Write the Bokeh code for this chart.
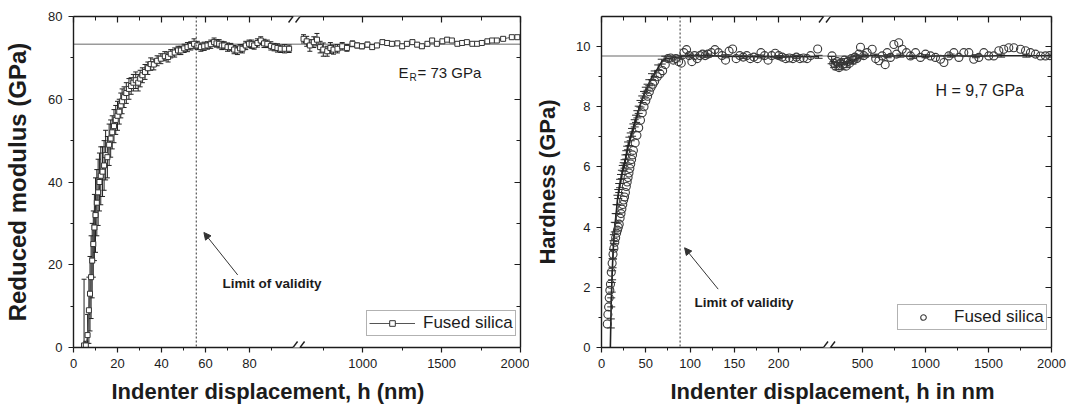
import numpy as np
from bokeh.plotting import figure
from bokeh.models import (Range1d, LinearAxis, FixedTicker, CustomJSTickFormatter, Span,
                          Label, Arrow, NormalHead, Whisker, TeeHead, ColumnDataSource,
                          Legend, LegendItem, Title)
from bokeh.layouts import row
from bokeh.embed import file_html
from bokeh.resources import INLINE

FONT = "Liberation Sans"
INK = "#1c1c1c"

# ---------------- data: left panel (reduced modulus) ----------------
h_mod_a = [4.8, 5.6, 6.4, 7.0, 7.5, 8.0, 8.5, 9.0, 9.5, 10.0, 10.6, 11.2, 11.8, 12.4, 13.2, 13.9,
           14.6, 15.4, 16.2, 16.9, 17.6, 18.4, 19.2, 20.0, 20.8, 21.5, 22.1, 23.0, 24.0, 25.2, 26.2,
           27.2, 28.3, 29.4, 30.3, 31.3, 32.5, 33.8, 35.1, 36.5, 38.0, 39.7, 41.5, 43.0, 44.2, 46.0,
           47.5, 48.8, 50.3, 51.8, 53.3, 54.8, 56.3, 57.9, 59.4, 60.9, 62.4, 63.9, 65.0, 66.2, 67.4,
           68.5, 70.0, 71.5, 73.0, 74.5, 75.7, 76.8, 78.3, 79.8, 81.0, 82.1, 83.6, 85.1, 86.6, 88.1,
           89.7, 91.2, 92.7, 94.2, 96.0, 98.0]
E_mod_a = [0.5, 0.5, 3.0, 9.0, 13.0, 17.0, 21.0, 25.0, 29.0, 32.0, 35.0, 37.5, 40.0, 41.5, 42.5, 44.0,
           46.5, 46.0, 49.0, 50.5, 52.0, 53.5, 55.0, 56.0, 57.0, 58.5, 59.5, 60.5, 61.5, 62.5, 63.2,
           64.0, 64.6, 64.0, 65.0, 65.8, 66.6, 67.5, 68.5, 68.4, 69.3, 69.8, 70.4, 70.2, 71.0, 71.3,
           71.8, 71.8, 72.3, 72.6, 72.9, 73.4, 73.0, 72.6, 72.8, 73.0, 73.3, 73.8, 73.5, 73.4, 73.0,
           73.0, 72.6, 72.6, 72.0, 71.8, 72.3, 72.2, 73.0, 73.4, 73.3, 73.0, 73.6, 74.2, 73.5, 73.4,
           72.9, 72.6, 72.4, 72.2, 72.2, 72.2]
err_mod_a = [16.0, 1.0, 5.0, 8.0, 9.0, 10.0, 9.0, 8.0, 8.0, 9.0, 8.0, 8.0, 7.0, 7.0, 6.0, 6.0,
             6.0, 5.0, 5.0, 4.5, 4.0, 4.0, 3.5, 3.5, 3.0, 3.0, 3.0, 2.5, 2.5, 2.5, 2.0,
             2.0, 2.0, 2.0, 2.0, 1.8, 1.8, 1.5, 1.5, 1.3, 1.2, 1.2, 1.1, 1.2, 1.0, 1.1,
             1.0, 1.0, 1.0, 1.1, 1.0, 1.2, 1.0, 1.0, 1.0, 0.9, 1.0, 1.0, 0.9, 1.0, 1.0,
             0.9, 1.0, 0.9, 1.0, 1.0, 0.9, 1.0, 1.0, 0.9, 1.0, 0.9, 1.0, 0.9, 1.0, 0.9,
             1.0, 0.9, 1.0, 0.9, 1.0, 0.9]

h_mod_b = [625, 645, 665, 690, 710, 730, 750, 775, 795, 815, 840, 870, 900, 935, 965, 995, 1030,
           1060, 1090, 1125, 1155, 1185, 1220, 1250, 1280, 1315, 1345, 1375, 1410, 1440, 1470, 1505,
           1535, 1565, 1600, 1630, 1660, 1695, 1725, 1755, 1790, 1820, 1850, 1890, 1945, 1980]
E_mod_b = [74.6, 74.0, 73.0, 73.8, 74.4, 72.6, 72.0, 71.6, 72.4, 72.0, 72.2, 72.8, 72.4, 73.4, 73.0,
           72.8, 73.2, 72.6, 73.0, 73.8, 73.6, 73.4, 73.5, 72.8, 73.4, 73.8, 73.2, 72.8, 73.4, 74.2,
           73.4, 74.0, 74.4, 74.2, 73.4, 73.6, 73.8, 73.4, 73.4, 73.6, 74.0, 74.2, 74.2, 74.6, 75.0,
           75.0]
err_mod_b = [1.0, 1.2, 1.4, 1.3, 1.5, 1.4, 1.6, 1.2, 1.3, 1.1, 1.0, 0.9, 0.8, 0.7, 0.6, 0.6, 0.6,
             0.5, 0.5, 0.5, 0.5, 0.5, 0.5, 0.5, 0.5, 0.5, 0.5, 0.5, 0.5, 0.5, 0.4, 0.4, 0.4, 0.4,
             0.4, 0.4, 0.4, 0.4, 0.4, 0.4, 0.4, 0.4, 0.4, 0.4, 0.3, 0.3]

ER_value = 73.3
limit_left = 55.8

# ---------------- data: right panel (hardness) ----------------
h_hard_a = [6.5, 7.2, 8.0, 8.7, 9.4, 10.1, 11, 12, 13, 14, 15, 16, 17, 18, 19, 20, 21, 22, 23, 24,
            25, 26, 27, 28, 29, 30, 31, 32, 33, 34, 35, 36, 38, 40, 42, 44, 46, 48, 50, 52, 54, 56,
            58, 60, 63, 66, 69, 72, 75, 78, 81, 84, 87, 90, 93, 96, 99, 102, 105, 108, 111, 114,
            117, 120, 124, 128, 132, 136, 140, 144, 148, 152, 156, 160, 164, 168, 172, 176, 180,
            184, 188, 192, 196, 200, 204, 208, 212, 216, 220, 224, 228, 232, 236, 244]
H_hard_a = [0.78, 1.1, 1.35, 1.65, 1.9, 2.1, 2.5, 2.8, 3.1, 3.3, 3.5, 3.65, 3.8, 3.9, 4.0, 4.1, 4.3,
            4.45, 4.6, 4.75, 4.9, 5.0, 5.15, 5.35, 5.5, 5.65, 5.8, 5.95, 6.1, 6.25, 6.4, 6.55, 6.8,
            7.05, 7.3, 7.55, 7.8, 8.0, 8.2, 8.35, 8.5, 8.65, 8.75, 8.85, 9.0, 9.1, 9.2, 9.4, 9.6,
            9.62, 9.55, 9.6, 9.5, 9.45, 9.8, 9.9, 9.7, 9.5, 9.7, 9.6, 9.7, 9.75, 9.7, 9.75, 9.8,
            9.9, 9.8, 9.7, 9.55, 9.85, 9.92, 9.6, 9.7, 9.65, 9.7, 9.6, 9.65, 9.6, 9.8, 9.7, 9.55,
            9.7, 9.78, 9.7, 9.65, 9.6, 9.62, 9.6, 9.65, 9.6, 9.62, 9.6, 9.7, 9.92]
h_hard_b = [258, 272, 286, 300, 314, 328, 342, 356, 370, 384, 398, 412, 426, 440, 455, 471, 484, 510,
            537, 577, 605, 630, 656, 680, 696, 722, 749, 770, 788, 815, 849, 881, 921, 960, 1000,
            1040, 1079, 1119, 1146, 1185, 1225, 1265, 1304, 1344, 1383, 1423, 1463, 1502, 1542,
            1582, 1621, 1661, 1701, 1754, 1794, 1833, 1873, 1913, 1952, 1985]
H_hard_b = [9.69, 9.45, 9.35, 9.5, 9.3, 9.45, 9.4, 9.55, 9.35, 9.5, 9.45, 9.6, 9.55, 9.65, 9.6, 9.75,
            9.98, 9.7, 9.8, 9.91, 9.6, 9.53, 9.69, 9.4, 9.8, 9.64, 10.07, 9.75, 10.13, 9.91, 9.8,
            9.69, 9.8, 9.64, 9.75, 9.69, 9.64, 9.58, 9.47, 9.69, 9.8, 9.64, 9.8, 9.8, 9.58, 9.64,
            9.8, 9.69, 9.69, 9.86, 9.91, 9.96, 9.96, 9.91, 9.86, 9.8, 9.75, 9.69, 9.69, 9.7]
# darker error-bar curve of the hardness measurement
h_dark_a = [10, 10.5, 11, 11.5, 12, 12.5, 13, 13.5, 14, 15, 16, 17, 18, 19, 20, 21, 22, 23, 24, 25,
            26, 27, 28, 29, 30, 31.5, 33, 34.5, 36, 37.5, 39, 40.5, 42, 44, 46, 48, 50, 52, 54, 57,
            60, 64, 68, 72, 80, 90, 100, 120, 140, 160, 180, 200, 220, 245]
H_dark_a = [0.0, 0.8, 1.5, 2.0, 2.4, 2.8, 3.1, 3.4, 3.6, 4.0, 4.3, 4.6, 4.9, 5.1, 5.3, 5.45, 5.6,
            5.75, 5.9, 6.0, 6.1, 6.25, 6.4, 6.55, 6.7, 6.85, 7.0, 7.15, 7.3, 7.45, 7.6, 7.75, 7.9,
            8.1, 8.25, 8.4, 8.55, 8.65, 8.8, 9.0, 9.1, 9.3, 9.5, 9.6, 9.62, 9.66, 9.7, 9.7, 9.68,
            9.66, 9.67, 9.65, 9.66, 9.66]
err_dark_a = [0.0, 0.15, 0.15, 0.16, 0.15, 0.15, 0.16, 0.15, 0.15, 0.16, 0.15, 0.15, 0.16, 0.15,
              0.15, 0.14, 0.15, 0.14, 0.15, 0.14, 0.14, 0.15, 0.14, 0.14, 0.13, 0.14, 0.13, 0.13,
              0.13, 0.12, 0.12, 0.12, 0.12, 0.11, 0.11, 0.11, 0.1, 0.1, 0.1, 0.1, 0.09, 0.09, 0.08,
              0.08, 0.06, 0.05, 0.05, 0.05, 0.05, 0.05, 0.05, 0.05, 0.05, 0.05]
h_dark_b = [255, 275, 295, 315, 335, 355, 375, 395, 420, 450, 480, 520, 600, 700, 800, 900, 1000,
            1200, 1400, 1600, 1800, 2000]
H_dark_b = [9.55, 9.4, 9.35, 9.45, 9.35, 9.5, 9.4, 9.55, 9.5, 9.6, 9.65, 9.7, 9.7, 9.68, 9.7, 9.66,
            9.68, 9.7, 9.68, 9.7, 9.7, 9.7]
err_dark_b = [0.12, 0.1, 0.12, 0.1, 0.12, 0.1, 0.1, 0.1, 0.08, 0.08, 0.06, 0.05, 0.05, 0.05, 0.05,
              0.05, 0.05, 0.05, 0.05, 0.05, 0.05, 0.05]

H_value = 9.69
limit_right = 88.7

FIG_H = 412
PAGE_TOP = 0  # the page template draws the layout at the very top-left corner


def style_axis(ax, t_in, t_out, m_in, m_out, labels):
    ax.axis_line_color = INK
    ax.axis_line_width = 1.4
    ax.major_tick_line_color = INK
    ax.minor_tick_line_color = INK
    ax.major_tick_line_width = 1.2
    ax.minor_tick_line_width = 1.0
    ax.major_tick_in = t_in
    ax.major_tick_out = t_out
    ax.minor_tick_in = m_in
    ax.minor_tick_out = m_out
    if labels:
        ax.major_label_text_font = FONT
        ax.major_label_text_font_size = "13px"
        ax.major_label_text_color = INK
    else:
        ax.major_label_text_color = None
        ax.major_label_text_font_size = "1px"
        ax.major_label_standoff = 0


def build(width, x0_page, mb_left, mb_right, mb_top, mb_bottom, seg1, seg2, f1, f2, yr,
          xmaj1, xmin1, xmaj2, xmin2, ymaj, ymin, ylabel, ylabel_size, ylabel_standoff,
          xlabel, xlabel_left_page, tick_standoff, xlabel_standoff):
    fw = width - mb_left - mb_right
    fh = FIG_H - mb_top - mb_bottom
    fl = x0_page + mb_left
    ft = PAGE_TOP + mb_top
    R = seg1[1] / f1
    s = (seg2[0] - seg2[1] * f2) / (1 - f2)
    p = figure(width=width, height=FIG_H, output_backend="svg", toolbar_location=None,
               x_range=Range1d(0, R), y_range=Range1d(yr[0], yr[1]),
               min_border_left=mb_left, min_border_right=mb_right,
               min_border_top=mb_top, min_border_bottom=mb_bottom)
    p.extra_x_ranges = {"seg2": Range1d(s, seg2[1])}
    p.outline_line_color = None
    p.grid.visible = False
    p.background_fill_color = "white"
    p.border_fill_color = "white"

    def to_main(v):
        return (v - s) / (seg2[1] - s) * R

    major = [float(v) for v in xmaj1] + [to_main(v) for v in xmaj2]
    minor = [float(v) for v in xmin1] + [to_main(v) for v in xmin2]
    labs = [str(v) for v in xmaj1] + [str(v) for v in xmaj2]
    fmt = CustomJSTickFormatter(args=dict(pos=major, labs=labs), code="""
        for (let i = 0; i < pos.length; i++) {
            if (Math.abs(pos[i] - tick) < 1e-6) { return labs[i]; }
        }
        return '';
    """)
    xb = p.xaxis[0]
    xb.ticker = FixedTicker(ticks=major, minor_ticks=minor)
    xb.formatter = fmt
    style_axis(xb, 0, 5, 0, 3, True)
    xb.major_label_standoff = tick_standoff

    xt = LinearAxis(ticker=FixedTicker(ticks=major, minor_ticks=minor))
    style_axis(xt, 6, 0, 4, 0, False)
    p.add_layout(xt, "above")

    yl = p.yaxis[0]
    yl.ticker = FixedTicker(ticks=ymaj, minor_ticks=ymin)
    style_axis(yl, 0, 5, 0, 3, True)
    yl.major_label_standoff = 6
    yl.axis_label = ylabel
    yl.axis_label_text_font = FONT
    yl.axis_label_text_font_style = "bold"
    yl.axis_label_text_font_size = ylabel_size
    yl.axis_label_text_color = INK
    yl.axis_label_standoff = ylabel_standoff

    yrx = LinearAxis(ticker=FixedTicker(ticks=ymaj, minor_ticks=ymin))
    style_axis(yrx, 6, 0, 4, 0, False)
    p.add_layout(yrx, "right")

    p.add_layout(Title(text=xlabel, align="left", offset=xlabel_left_page - fl,
                       standoff=xlabel_standoff, text_font=FONT, text_font_size="22px",
                       text_font_style="bold", text_color=INK), "below")

    def P(xp, yp):
        return (xp - fl) / fw * R, yr[1] - (yp - ft) / fh * (yr[1] - yr[0])

    dx = R / fw
    dy = (yr[1] - yr[0]) / fh
    xbk = R * (f1 + f2) / 2
    for yv, sgn in ((yr[0], 1), (yr[1], -1)):
        p.add_layout(Arrow(end=None, x_start=xbk - 3.5 * dx, x_end=xbk + 3.5 * dx,
                           y_start=yv + sgn * 0.5 * dy, y_end=yv + sgn * 0.5 * dy,
                           line_color="white", line_width=3))
        for c in (-3.5, 3.5):
            p.add_layout(Arrow(end=None, x_start=xbk + (c - 4.5) * dx, y_start=yv - 6 * dy,
                               x_end=xbk + (c + 4.5) * dx, y_end=yv + 6 * dy,
                               line_color=INK, line_width=1.4))
    return p, P


def add_text(p, xy, text, size, bold=False, baseline="alphabetic", align="left"):
    p.add_layout(Label(x=xy[0], y=xy[1], text=text, text_font=FONT, text_font_size=size,
                       text_font_style="bold" if bold else "normal", text_color=INK,
                       text_baseline=baseline, text_align=align))


# ================= left panel =================
pL, PL = build(529, 0, 73, 9, 16, 63, (0, 100), (600, 2000), 220.0 / 447, 226.1 / 447, (0, 80),
               [0, 20, 40, 60, 80], [10, 30, 50, 70, 90], [1000, 1500, 2000], [750, 1250, 1750],
               [0, 20, 40, 60, 80], [10, 30, 50, 70], "Reduced modulus (GPa)", "24px", 14,
               "Indenter displacement, h (nm)", 111, 6, 12)

pL.add_layout(Span(location=ER_value, dimension="width", line_color="#9a9a9a", line_width=1.5,
                   level="underlay"))
pL.add_layout(Span(location=limit_left, dimension="height", line_color="#333333", line_width=1,
                   line_dash="2 2"))

Ea = np.array(E_mod_a)
ea = np.array(err_mod_a)
srcA = ColumnDataSource(dict(x=h_mod_a, y=E_mod_a, lo=np.clip(Ea - ea, 0, None), up=Ea + ea))
Eb = np.array(E_mod_b)
eb = np.array(err_mod_b)
srcB = ColumnDataSource(dict(x=h_mod_b, y=E_mod_b, lo=Eb - eb, up=Eb + eb))

for src, rn in ((srcA, "default"), (srcB, "seg2")):
    pL.add_layout(Whisker(source=src, base="x", lower="lo", upper="up", dimension="height",
                          line_color="#222222", line_width=1, x_range_name=rn,
                          upper_head=TeeHead(size=5, line_color="#222222", line_width=1),
                          lower_head=TeeHead(size=5, line_color="#222222", line_width=1)))
lineA = pL.line("x", "y", source=srcA, line_color="#555555", line_width=1)
sqA = pL.scatter("x", "y", source=srcA, marker="square", size=5, line_color="#333333",
                 fill_color="white", line_width=1)
pL.line("x", "y", source=srcB, line_color="#555555", line_width=1, x_range_name="seg2")
pL.scatter("x", "y", source=srcB, marker="square", size=5, line_color="#333333",
           fill_color="white", line_width=1, x_range_name="seg2")

legL = Legend(items=[LegendItem(label="Fused silica", renderers=[lineA, sqA])],
              location=(293, 11), padding=2, spacing=0, margin=0, glyph_width=46,
              glyph_height=14, label_standoff=8, label_height=14,
              label_text_font=FONT, label_text_font_size="17px", label_text_color=INK,
              border_line_color="#666666", border_line_width=1, background_fill_color="white")
pL.add_layout(legL)

add_text(pL, PL(398, 72), "E", "15px")
add_text(pL, PL(409, 77), "R", "10px")
add_text(pL, PL(417, 72), "= 73 GPa", "15px")
add_text(pL, PL(222, 285), "Limit of validity", "13.5px", bold=True, baseline="middle")
hx, hy = PL(203.4, 233.3)
tx, ty = PL(237.2, 276)
pL.add_layout(Arrow(x_start=tx, y_start=ty, x_end=hx, y_end=hy, line_color="#333333",
                    line_width=1, end=NormalHead(size=7, fill_color="#333333",
                                                 line_color="#333333")))

# ================= right panel =================
pR, PR = build(538, 529, 72, 16, 14, 65, (0, 250), (250, 2000), 221.5 / 450, 229.5 / 450, (0, 11),
               [0, 50, 100, 150, 200], [25, 75, 125, 175, 225], [500, 1000, 1500, 2000],
               [750, 1250, 1750], [0, 2, 4, 6, 8, 10], [1, 3, 5, 7, 9], "Hardness (GPa)", "22px", 13,
               "Indenter displacement, h in nm", 670, 6, 13)

pR.add_layout(Span(location=H_value, dimension="width", line_color="#9a9a9a", line_width=1.5,
                   level="underlay"))
pR.add_layout(Span(location=limit_right, dimension="height", line_color="#333333", line_width=1,
                   line_dash="2 2"))

Hd = np.array(H_dark_a)
ed = np.array(err_dark_a)
srcD = ColumnDataSource(dict(x=h_dark_a, y=H_dark_a, lo=Hd - ed, up=Hd + ed))
Hg = np.array(H_dark_b)
eg = np.array(err_dark_b)
srcG = ColumnDataSource(dict(x=h_dark_b, y=H_dark_b, lo=Hg - eg, up=Hg + eg))
for src, rn in ((srcD, "default"), (srcG, "seg2")):
    pR.add_layout(Whisker(source=src, base="x", lower="lo", upper="up", dimension="height",
                          line_color="#2a2a2a", line_width=1, x_range_name=rn,
                          upper_head=TeeHead(size=8, line_color="#2a2a2a", line_width=1),
                          lower_head=TeeHead(size=8, line_color="#2a2a2a", line_width=1)))
pR.line("x", "y", source=srcD, line_color="#222222", line_width=1.6)
pR.line("x", "y", source=srcG, line_color="#222222", line_width=1.4, x_range_name="seg2")

srcC = ColumnDataSource(dict(x=h_hard_a, y=H_hard_a))
srcE = ColumnDataSource(dict(x=h_hard_b, y=H_hard_b))
circA = pR.scatter("x", "y", source=srcC, marker="circle", size=8, line_color="#3a3a3a",
                   fill_color=None, line_width=1.1)
pR.scatter("x", "y", source=srcE, marker="circle", size=8, line_color="#3a3a3a",
           fill_color=None, line_width=1.1, x_range_name="seg2")

legR = Legend(items=[LegendItem(label="Fused silica", renderers=[circA])],
              location=(296, 17), padding=2, spacing=0, margin=0, glyph_width=46,
              glyph_height=14, label_standoff=8, label_height=14,
              label_text_font=FONT, label_text_font_size="17px", label_text_color=INK,
              border_line_color="#666666", border_line_width=1, background_fill_color="white")
pR.add_layout(legR)

add_text(pR, PR(935, 88), "H = 9,7 GPa", "16px")
add_text(pR, PR(694, 302), "Limit of validity", "13.5px", bold=True, baseline="middle")
hx, hy = PR(684.1, 246.7)
tx, ty = PR(717.7, 288.3)
pR.add_layout(Arrow(x_start=tx, y_start=ty, x_end=hx, y_end=hy, line_color="#333333",
                    line_width=1, end=NormalHead(size=7, fill_color="#333333",
                                                 line_color="#333333")))

layout = row(pL, pR)
open("out.html", "w").write(file_html(layout, INLINE, title="Fused silica"))
